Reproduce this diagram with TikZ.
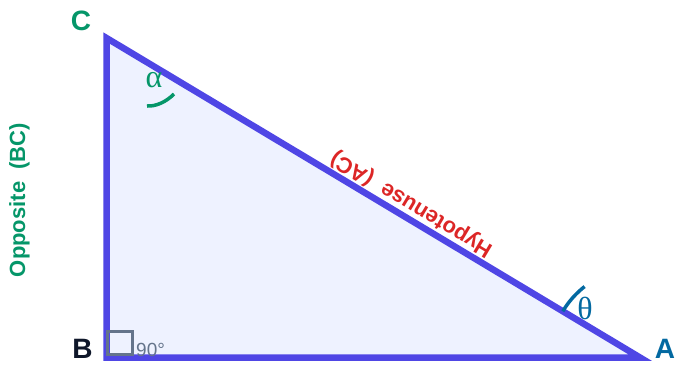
\documentclass[tikz,border=0pt]{standalone}
\usepackage{fontspec}
\setmainfont{Liberation Sans}
\newfontfamily\greekfont{Liberation Serif}
\definecolor{triline}{HTML}{4F46E5}
\definecolor{trifill}{HTML}{EEF2FF}
\definecolor{tgreen}{HTML}{059669}
\definecolor{tblue}{HTML}{0369A1}
\definecolor{tred}{HTML}{DC2626}
\definecolor{tdark}{HTML}{0F172A}
\definecolor{tgray}{HTML}{64748B}
\tikzset{
  vlabel/.style={font=\fontsize{28}{30}\selectfont\bfseries, inner sep=0pt},
  sidelabel/.style={font=\fontsize{22}{24}\selectfont\bfseries, inner sep=0pt},
  greeklabel/.style={font=\fontsize{32}{34}\selectfont\greekfont, inner sep=0pt},
  anglearc/.style={line width=3.5pt, line cap=butt},
}
\begin{document}
\begin{tikzpicture}[x=1pt,y=-1pt]
\useasboundingbox (0,0) rectangle (675,365);
\coordinate (C) at (106.5,38);
\coordinate (B) at (106.5,357.5);
\coordinate (A) at (640,357.5);
\filldraw[fill=trifill, draw=triline, line width=6.5pt, line join=miter] (C) -- (B) -- (A) -- cycle;
% right angle marker
\draw[tgray, line width=2.5pt] (107.5,331.5) rectangle (132.5,354.5);
\node[anchor=base west, inner sep=0pt, text=tgray, font=\fontsize{19}{20}\selectfont] (ninety) at (136,356) {90°};
% vertex labels
\node[vlabel, text=tgreen] (lC) at (81,21) {C};
\node[vlabel, text=tdark] (lB) at (82.5,348.5) {B};
\node[vlabel, text=tblue] (lA) at (665,349) {A};
% angle alpha
\draw[anglearc, tgreen] (147,106) .. controls (156,106.5) and (166,102) .. (174,94);
\node[greeklabel, text=tgreen] (alpha) at (154,80) {α};
% angle theta
\draw[anglearc, tblue] (A) ++(-149.1:90) arc[start angle=-149.1, end angle=-128, radius=90];
\node[greeklabel, text=tblue] (theta) at (585,308) {θ};
% side labels
\node[sidelabel, text=tgreen, rotate=90, anchor=base] (opp) at (25,200) {Opposite~~(BC)};
\node[sidelabel, text=tred, rotate=149.1, anchor=base] (hyp) at (414.5,199.1) {Hypotenuse~~(AC)};
\end{tikzpicture}
\end{document}
